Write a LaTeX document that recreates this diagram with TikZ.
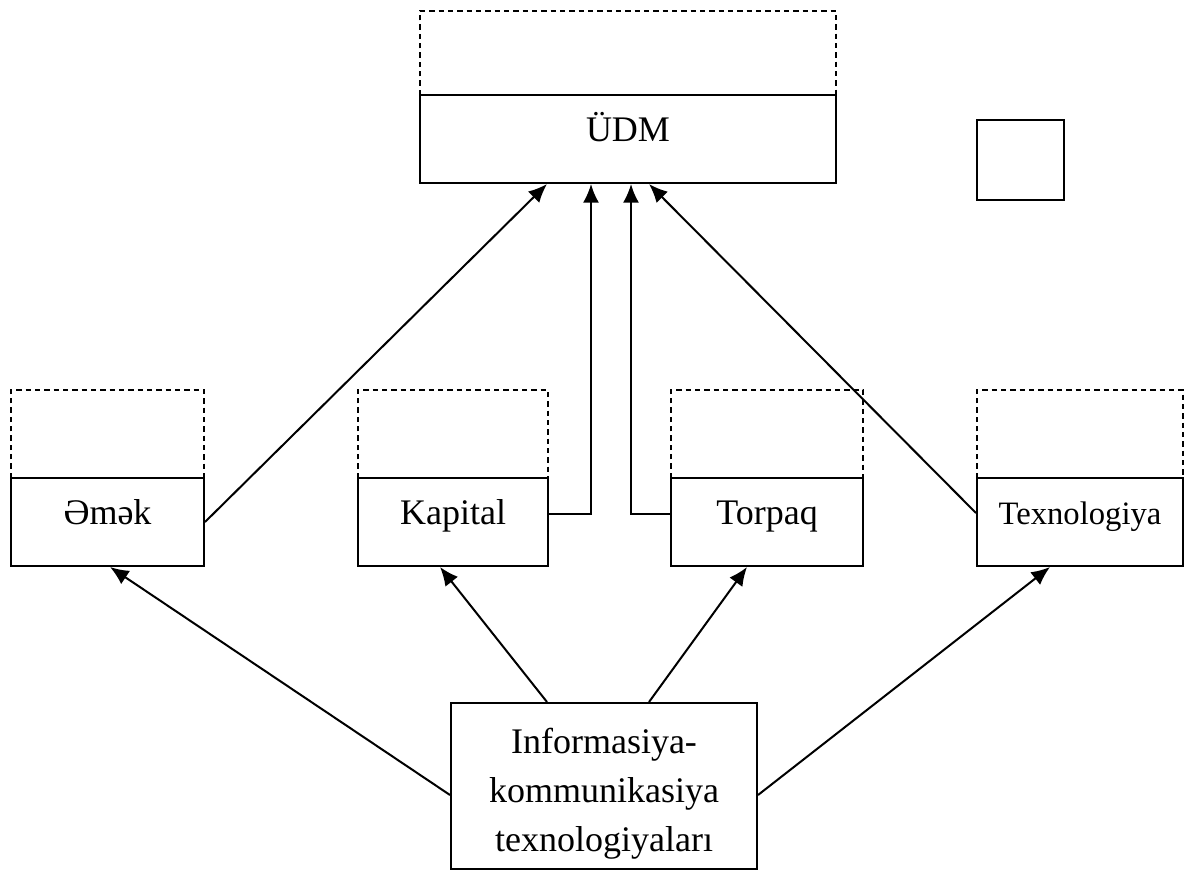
\documentclass[tikz,border=0pt]{standalone}
\usepackage{fontspec}
\setmainfont{Liberation Serif}
\usetikzlibrary{arrows.meta}
\begin{document}
\begin{tikzpicture}[x=0.75pt,y=-0.75pt,
  line width=1.5pt,
  box/.style={draw, line width=1.5pt, inner sep=0pt, minimum height=66pt,
    text height=12.25pt, text depth=8pt, font=\fontsize{27pt}{32pt}\selectfont},
  dbox/.style={draw, line width=1.1pt, dash pattern=on 4pt off 3pt},
  arr/.style={-{Latex[length=14pt,width=12pt]}, line width=1.5pt}]
\useasboundingbox (0,0) rectangle (1184,871);
% dashed upper parts
\draw[dbox] (420,95) -- (420,11) -- (836,11) -- (836,95);
\draw[dbox] (11,478) -- (11,390) -- (204,390) -- (204,478);
\draw[dbox] (358,478) -- (358,390) -- (548,390) -- (548,478);
\draw[dbox] (671,478) -- (671,390) -- (863,390) -- (863,478);
\draw[dbox] (977,478) -- (977,390) -- (1183,390) -- (1183,478);
% boxes
\node[box, minimum width=312pt] (udm) at (628,139) {ÜDM};
\node[box, minimum width=144.75pt] (emek) at (107.5,522) {Əmək};
\node[box, minimum width=142.5pt] (kapital) at (453,522) {Kapital};
\node[box, minimum width=144pt] (torpaq) at (767,522) {Torpaq};
\node[box, minimum width=154.5pt, font=\fontsize{24.5pt}{30pt}\selectfont] (texn) at (1080,522) {Texnologiya};
\node[draw, line width=1.5pt, minimum width=65.25pt, minimum height=60pt, inner sep=0pt] (sq) at (1020.5,160) {};
\node[draw, line width=1.5pt, minimum width=229.5pt, minimum height=124.5pt, inner sep=0pt,
  text height=23pt, text depth=72.5pt, font=\fontsize{27pt}{37pt}\selectfont] (ict) at (604,786)
  {\begin{tabular}[t]{@{}c@{}}Informasiya-\\kommunikasiya\\texnologiyaları\end{tabular}};
% connectors to ÜDM
\draw[arr] (emek.east) -- ([xshift=-60.75pt]udm.south);
\draw[arr] ([yshift=6pt]kapital.east) -| ([xshift=-27.75pt]udm.south);
\draw[arr] ([yshift=6pt]torpaq.west) -| ([xshift=2.25pt]udm.south);
\draw[arr] ([yshift=6.75pt]texn.west) -- ([xshift=15.75pt]udm.south);
% connectors from ICT
\draw[arr] ([yshift=-6.75pt]ict.west) -- ([xshift=1.9pt]emek.south);
\draw[arr] ([xshift=-42.75pt]ict.north) -- ([xshift=-9.75pt]kapital.south);
\draw[arr] ([xshift=33.75pt]ict.north) -- ([xshift=-15pt]torpaq.south);
\draw[arr] ([yshift=-6.75pt]ict.east) -- ([xshift=-22.5pt]texn.south);
\end{tikzpicture}
\end{document}
